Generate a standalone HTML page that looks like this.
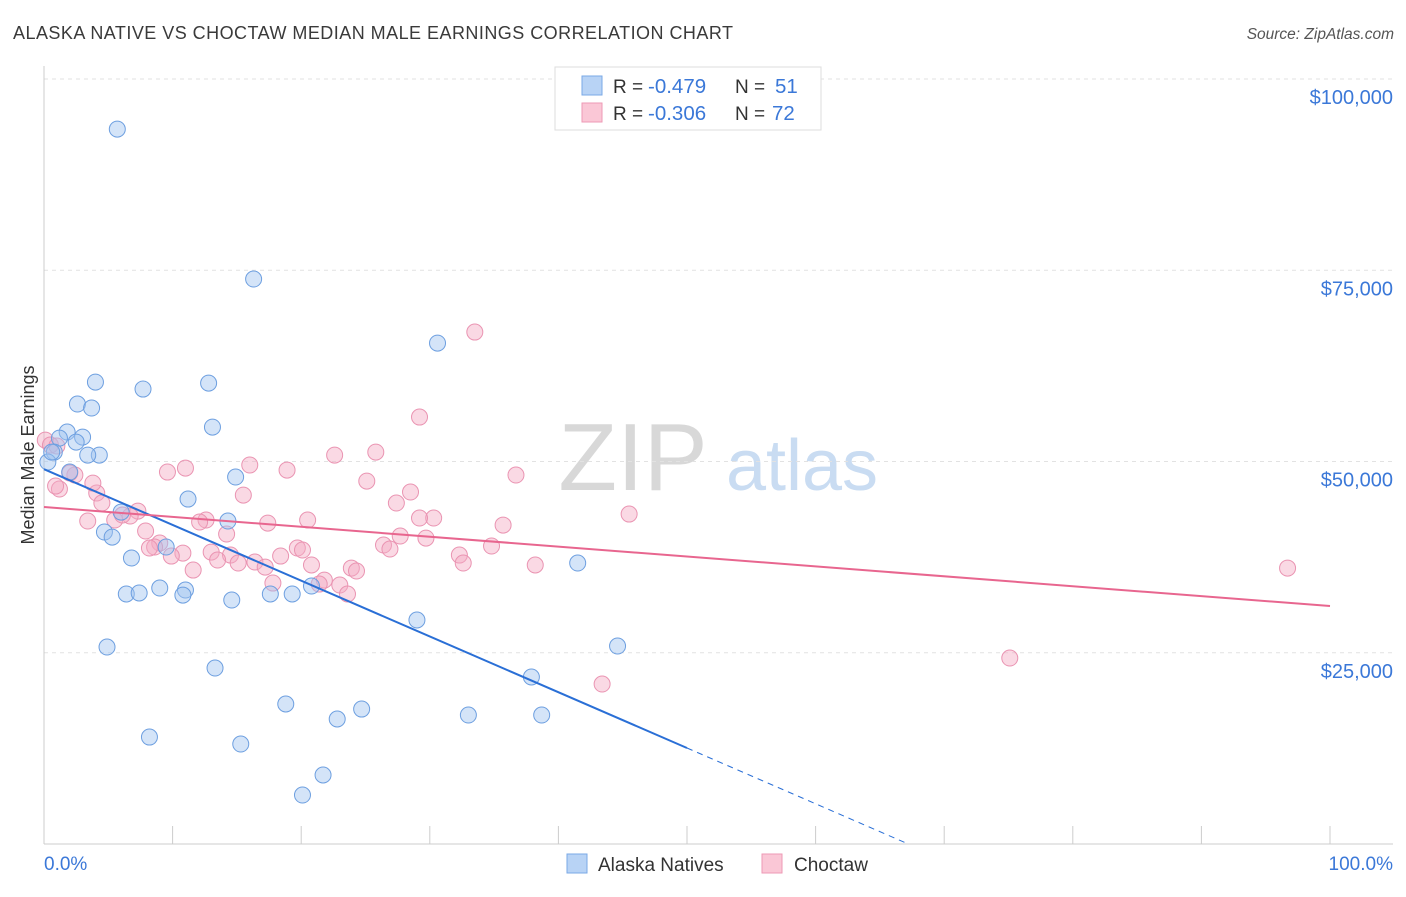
<!DOCTYPE html>
<html><head><meta charset="utf-8"><style>
body{margin:0;background:#fff;font-family:"Liberation Sans",sans-serif;}
svg text{font-family:"Liberation Sans",sans-serif;}
</style></head><body>
<svg id="chart" width="1406" height="892" viewBox="0 0 1406 892" xmlns="http://www.w3.org/2000/svg">
<text x="13" y="39" font-size="18" fill="#3a3a3a" textLength="720" lengthAdjust="spacing">ALASKA NATIVE VS CHOCTAW MEDIAN MALE EARNINGS CORRELATION CHART</text>
<text x="1394" y="39" font-size="15.5" fill="#555" text-anchor="end" font-style="italic">Source: ZipAtlas.com</text>
<g>
<text x="633" y="490" font-size="96" fill="#d8d8d8" text-anchor="middle" font-family="Liberation Serif, serif">ZIP</text>
<text x="802" y="490" font-size="72" fill="#c9dcf2" text-anchor="middle">atlas</text>
</g>
<g id="grid"></g>
<g id="axes"></g>
<g id="marks"></g>
<text transform="translate(34,455) rotate(-90)" font-size="18" fill="#333" text-anchor="middle">Median Male Earnings</text>
<g>
<rect x="555" y="67" width="266" height="63" fill="#fff" stroke="#ddd"/>
<rect x="582" y="76" width="20" height="19" fill="#b8d3f5" stroke="#7aa8e6"/>
<text x="613" y="93" font-size="19" fill="#333">R =</text>
<text x="648" y="93" font-size="20.5" fill="#3b78d8">-0.479</text>
<text x="735" y="93" font-size="19" fill="#333">N =</text>
<text x="775" y="93" font-size="20.5" fill="#3b78d8">51</text>
<rect x="582" y="103" width="20" height="19" fill="#fac7d6" stroke="#ee9ab5"/>
<text x="613" y="120" font-size="19" fill="#333">R =</text>
<text x="648" y="120" font-size="20.5" fill="#3b78d8">-0.306</text>
<text x="735" y="120" font-size="19" fill="#333">N =</text>
<text x="772" y="120" font-size="20.5" fill="#3b78d8">72</text>
</g>
<g>
<rect x="567" y="854" width="20" height="19" fill="#b8d3f5" stroke="#7aa8e6"/>
<text x="598" y="871" font-size="19" fill="#333">Alaska Natives</text>
<rect x="762" y="854" width="20" height="19" fill="#fac7d6" stroke="#ee9ab5"/>
<text x="794" y="871" font-size="19" fill="#333">Choctaw</text>
</g>
</svg>
<script>
const yTicks=[25000,50000,75000,100000];
const yTickLabels=["$25,000","$50,000","$75,000","$100,000"];
const blueX=[5.7,16.3,30.6,4.0,12.8,7.7,2.6,3.7,13.1,1.8,3.0,1.2,2.5,0.8,4.3,3.4,14.9,11.2,14.3,6.0,4.7,5.3,9.5,6.8,41.5,9.0,11.0,6.4,7.4,10.8,14.6,17.6,19.3,20.8,29.0,4.9,44.6,13.3,37.9,18.8,24.7,22.8,33.0,38.7,8.2,15.3,21.7,20.1,0.3,0.6,2.0];
const blueY=[93450,73850,65480,60380,60250,59470,57510,56990,54500,53850,53190,53060,52540,51230,50840,50840,47970,45090,42220,43390,40780,40120,38820,37380,36730,33460,33200,32680,32810,32540,31890,32680,32680,33720,29280,25750,25880,23000,21830,18300,17640,16340,16860,16860,13980,13070,9020,6400,49930,51230,48620];
const pinkX=[33.5,29.2,25.8,22.6,16.0,11.0,9.6,18.9,36.7,25.1,0.1,0.5,1.2,0.9,2.4,2.0,4.1,3.8,15.5,28.5,27.4,45.5,7.3,5.5,6.7,3.4,12.6,12.1,17.4,20.5,30.3,29.2,35.7,7.9,14.2,27.7,29.7,34.8,9.0,10.8,8.6,13.0,14.5,19.7,20.1,26.4,26.9,32.3,8.2,9.9,13.5,16.4,18.4,17.2,11.6,15.1,20.8,23.9,24.3,38.2,32.6,21.8,17.8,23.0,23.6,21.4,43.4,75.1,96.7,4.5,6.1,1.0];
const pinkY=[66920,55810,51230,50840,49540,49140,48620,48880,48230,47440,52800,52150,46400,46790,48230,48490,45880,47180,45610,46010,44570,43130,43520,42350,42870,42220,42350,42090,41950,42350,42610,42610,41690,40910,40520,40260,39990,38950,39340,38030,38820,38160,37770,38690,38430,39080,38560,37770,38690,37640,37120,36860,37640,36200,35810,36730,36470,36070,35680,36470,36730,34500,34110,33850,32680,33980,20910,24310,36070,44570,43000,52020];
const blueTrend=[49000,-729];
const pinkTrend=[44050,-129.4];
const NS="http://www.w3.org/2000/svg";
const X=v=>44+v*12.86;
const Y=v=>844-v*765/100000;
function mk(tag,attrs,parent){const e=document.createElementNS(NS,tag);for(const k in attrs)e.setAttribute(k,attrs[k]);parent.appendChild(e);return e;}
const grid=document.getElementById('grid'),axes=document.getElementById('axes'),marks=document.getElementById('marks');
yTicks.forEach((t,i)=>{
  const l=mk('line',{x1:44,x2:1393,y1:Y(t),y2:Y(t),stroke:'#e2e2e2','stroke-dasharray':'4,4'},grid);
  
  
  const tx=mk('text',{x:1393,y:Y(t)+25,'font-size':20,fill:'#3b78d8','text-anchor':'end'},axes);
  tx.textContent=yTickLabels[i];
  
  
});
const ya=mk('line',{x1:44,x2:44,y1:66,y2:844,stroke:'#ccc'},axes);


const xa=mk('line',{x1:44,x2:1393,y1:844,y2:844,stroke:'#ccc'},axes);


for(let i=0;i<=10;i++){const t=mk('line',{x1:X(i*10),x2:X(i*10),y1:826,y2:844,stroke:'#ccc'},axes);}
const x0=mk('text',{x:44,y:870,'font-size':19,fill:'#3b78d8'},axes);x0.textContent='0.0%';


const x1=mk('text',{x:1393,y:870,'font-size':19,fill:'#3b78d8','text-anchor':'end'},axes);x1.textContent='100.0%';


pinkX.forEach((v,i)=>{const c=mk('circle',{cx:X(v),cy:Y(pinkY[i]),r:8,fill:'rgba(245,170,195,0.45)',stroke:'#ea94b2','stroke-width':1},marks);

});
blueX.forEach((v,i)=>{const c=mk('circle',{cx:X(v),cy:Y(blueY[i]),r:8,fill:'rgba(160,195,240,0.45)',stroke:'#6d9fe0','stroke-width':1},marks);

});
const bEnd=50, bZero=-blueTrend[0]/blueTrend[1];
const bl=mk('line',{x1:X(0),y1:Y(blueTrend[0]),x2:X(bEnd),y2:Y(blueTrend[0]+blueTrend[1]*bEnd),stroke:'#2a6fd6','stroke-width':2},marks);


const bd=mk('line',{x1:X(bEnd),y1:Y(blueTrend[0]+blueTrend[1]*bEnd),x2:X(bZero),y2:Y(0),stroke:'#2a6fd6','stroke-width':1,'stroke-dasharray':'6,5'},marks);


const pl=mk('line',{x1:X(0),y1:Y(pinkTrend[0]),x2:X(100),y2:Y(pinkTrend[0]+pinkTrend[1]*100),stroke:'#e8668f','stroke-width':2},marks);


</script>
</body></html>
